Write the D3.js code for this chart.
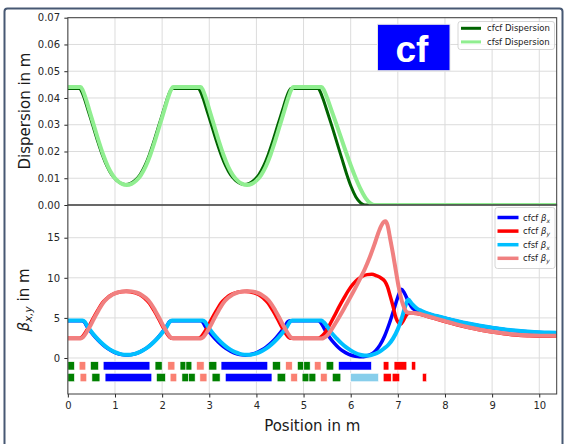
<!DOCTYPE html>
<html>
<head>
<meta charset="utf-8">
<script src="https://cdn.jsdelivr.net/npm/d3@7"></script>
<style>
html, body { margin: 0; padding: 0; background: #fff; }
svg { display: block; font-family: "DejaVu Sans", sans-serif; }
</style>
</head>
<body>
<svg id="chart" width="567" height="444"></svg>
<script>
// ---- Optics along the beamline: [position s in m, value] ----
const dispersionCfcf = [
  [0,0.0435],[0.25,0.0435],[0.29,0.0425],[0.35,0.0398],[0.43,0.0353],[0.53,0.0297],[0.63,0.0240],[0.73,0.0188],[0.83,0.0145],[0.93,0.0113],[1.03,0.0093],[1.13,0.0081],[1.23,0.0077],[1.33,0.0081],[1.43,0.0093],[1.53,0.0113],[1.63,0.0145],[1.73,0.0188],[1.83,0.0240],[1.93,0.0297],[2.03,0.0353],[2.11,0.0398],[2.17,0.0425],[2.21,0.0435],
  [2.77,0.0435],[2.81,0.0425],[2.87,0.0398],[2.95,0.0353],[3.05,0.0297],[3.15,0.0240],[3.25,0.0188],[3.35,0.0145],[3.45,0.0113],[3.55,0.0093],[3.65,0.0081],[3.75,0.0077],[3.85,0.0081],[3.95,0.0093],[4.05,0.0113],[4.15,0.0145],[4.25,0.0188],[4.35,0.0240],[4.45,0.0297],[4.55,0.0353],[4.63,0.0398],[4.69,0.0425],[4.73,0.0435],
  [5.31,0.0435],[5.35,0.0425],[5.41,0.0398],[5.51,0.0345],[5.61,0.0290],[5.71,0.0232],[5.81,0.0175],[5.91,0.0118],[6.01,0.0068],[6.11,0.0030],[6.21,0.0008],[6.30,0],[10.37,0]
];
const dispersionCfsf = [
  [0,0.0441],[0.27,0.0441],[0.31,0.0431],[0.37,0.0403],[0.45,0.0357],[0.55,0.0299],[0.65,0.0241],[0.75,0.0188],[0.85,0.0144],[0.95,0.0112],[1.05,0.0091],[1.15,0.0079],[1.25,0.0075],[1.35,0.0079],[1.45,0.0091],[1.55,0.0112],[1.65,0.0144],[1.75,0.0188],[1.85,0.0241],[1.95,0.0299],[2.05,0.0357],[2.13,0.0403],[2.19,0.0431],[2.23,0.0441],
  [2.82,0.0441],[2.86,0.0431],[2.92,0.0403],[3.00,0.0357],[3.10,0.0299],[3.20,0.0241],[3.30,0.0188],[3.40,0.0144],[3.50,0.0112],[3.60,0.0091],[3.70,0.0079],[3.80,0.0075],[3.90,0.0079],[4.00,0.0091],[4.10,0.0112],[4.20,0.0144],[4.30,0.0188],[4.40,0.0241],[4.50,0.0299],[4.60,0.0357],[4.68,0.0403],[4.74,0.0431],[4.78,0.0441],
  [5.38,0.0441],[5.43,0.0430],[5.50,0.0400],[5.60,0.0350],[5.72,0.0290],[5.84,0.0228],[5.96,0.0168],[6.08,0.0112],[6.20,0.0063],[6.32,0.0025],[6.42,0.0006],[6.51,0],[10.37,0]
];
const betaXCfcf = [
  [0,4.65],[0.30,4.65],[0.35,4.48],[0.41,3.90],[0.49,3.26],[0.59,2.55],[0.69,1.94],[0.79,1.43],[0.89,1.02],[0.99,0.71],[1.09,0.50],[1.18,0.39],[1.25,0.37],[1.32,0.39],[1.41,0.50],[1.51,0.71],[1.61,1.02],[1.71,1.43],[1.81,1.94],[1.91,2.55],[2.01,3.26],[2.09,3.90],[2.15,4.48],[2.20,4.65],
  [2.81,4.65],[2.86,4.48],[2.92,3.90],[3.00,3.26],[3.10,2.55],[3.20,1.94],[3.30,1.43],[3.40,1.02],[3.50,0.71],[3.60,0.50],[3.69,0.39],[3.76,0.35],[3.83,0.39],[3.92,0.50],[4.02,0.71],[4.12,1.02],[4.22,1.43],[4.32,1.94],[4.42,2.55],[4.52,3.26],[4.60,3.90],[4.66,4.48],[4.71,4.65],
  [5.31,4.65],[5.36,4.45],[5.45,3.55],[5.55,2.60],[5.65,1.85],[5.75,1.25],[5.85,0.80],[5.95,0.48],[6.05,0.28],[6.15,0.18],[6.22,0.16],[6.32,0.22],[6.42,0.42],[6.52,0.85],[6.62,1.60],[6.72,2.75],[6.82,4.30],[6.92,6.10],[7.00,7.60],[7.08,8.56],[7.14,8.10],[7.22,7.10],[7.32,6.15],[7.45,5.85],[7.60,5.60],[7.75,5.32],[7.89,5.12],[8.00,4.95],[8.25,4.59],[8.50,4.27],[8.75,4.00],[9.00,3.76],[9.25,3.56],[9.50,3.39],[9.75,3.27],[10.00,3.18],[10.20,3.14],[10.37,3.13]
];
const betaYCfcf = [
  [0,2.45],[0.25,2.45],[0.30,2.60],[0.37,3.15],[0.45,3.95],[0.53,4.85],[0.63,5.90],[0.73,6.85],[0.83,7.45],[0.93,7.88],[1.03,8.12],[1.13,8.26],[1.23,8.30],[1.33,8.26],[1.43,8.12],[1.53,7.88],[1.63,7.45],[1.73,6.85],[1.83,5.90],[1.93,4.85],[2.01,3.95],[2.09,3.15],[2.16,2.60],[2.21,2.45],
  [2.77,2.45],[2.82,2.60],[2.89,3.15],[2.97,3.95],[3.05,4.85],[3.15,5.90],[3.25,6.85],[3.35,7.45],[3.45,7.88],[3.55,8.12],[3.65,8.26],[3.75,8.30],[3.85,8.26],[3.95,8.12],[4.05,7.88],[4.15,7.45],[4.25,6.85],[4.35,5.90],[4.45,4.85],[4.53,3.95],[4.61,3.15],[4.68,2.60],[4.73,2.45],
  [5.31,2.45],[5.36,2.60],[5.45,3.10],[5.55,4.10],[5.65,5.20],[5.75,6.35],[5.85,7.40],[5.95,8.40],[6.05,9.20],[6.15,9.80],[6.25,10.20],[6.35,10.40],[6.45,10.45],[6.55,10.25],[6.65,9.95],[6.72,9.60],[6.78,8.90],[6.84,7.70],[6.90,6.40],[6.96,5.00],[7.02,4.35],[7.06,4.22],[7.12,4.70],[7.18,5.35],[7.25,5.62],[7.40,5.55],[7.60,5.22],[7.75,4.97],[7.89,4.74],[8.00,4.55],[8.25,4.15],[8.50,3.79],[8.75,3.48],[9.00,3.23],[9.25,3.03],[9.50,2.88],[9.75,2.78],[10.00,2.72],[10.20,2.72],[10.37,2.74]
];
const betaXCfsf = [
  [0,4.68],[0.31,4.68],[0.36,4.50],[0.42,3.92],[0.50,3.28],[0.60,2.57],[0.70,1.96],[0.80,1.45],[0.90,1.04],[1.00,0.73],[1.10,0.52],[1.19,0.41],[1.26,0.39],[1.33,0.41],[1.42,0.52],[1.52,0.73],[1.62,1.04],[1.72,1.45],[1.82,1.96],[1.92,2.57],[2.02,3.28],[2.10,3.92],[2.16,4.50],[2.21,4.68],
  [2.86,4.68],[2.91,4.50],[2.97,3.92],[3.05,3.28],[3.15,2.57],[3.25,1.96],[3.35,1.45],[3.45,1.04],[3.55,0.73],[3.65,0.52],[3.74,0.41],[3.81,0.39],[3.88,0.41],[3.97,0.52],[4.07,0.73],[4.17,1.04],[4.27,1.45],[4.37,1.96],[4.47,2.57],[4.57,3.28],[4.65,3.92],[4.71,4.50],[4.76,4.68],
  [5.38,4.68],[5.43,4.45],[5.50,3.95],[5.60,3.10],[5.70,2.45],[5.80,1.85],[5.90,1.35],[6.00,0.95],[6.10,0.62],[6.20,0.40],[6.30,0.30],[6.40,0.32],[6.50,0.48],[6.60,0.75],[6.70,1.15],[6.80,1.65],[6.90,2.45],[7.00,3.60],[7.08,4.90],[7.15,6.30],[7.22,7.30],[7.30,6.75],[7.40,6.20],[7.50,5.88],[7.60,5.63],[7.75,5.35],[7.89,5.15],[8.00,4.98],[8.25,4.62],[8.50,4.30],[8.75,4.03],[9.00,3.79],[9.25,3.59],[9.50,3.42],[9.75,3.30],[10.00,3.21],[10.20,3.17],[10.37,3.16]
];
const betaYCfsf = [
  [0,2.42],[0.27,2.42],[0.32,2.58],[0.39,3.15],[0.47,3.95],[0.55,4.87],[0.65,5.93],[0.75,6.88],[0.85,7.50],[0.95,7.93],[1.05,8.17],[1.15,8.31],[1.25,8.35],[1.35,8.31],[1.45,8.17],[1.55,7.93],[1.65,7.50],[1.75,6.88],[1.85,5.93],[1.95,4.87],[2.03,3.95],[2.11,3.15],[2.18,2.58],[2.23,2.42],
  [2.82,2.42],[2.87,2.58],[2.94,3.15],[3.02,3.95],[3.10,4.87],[3.20,5.93],[3.30,6.88],[3.40,7.50],[3.50,7.93],[3.60,8.17],[3.70,8.31],[3.80,8.35],[3.90,8.31],[4.00,8.17],[4.10,7.93],[4.20,7.50],[4.30,6.88],[4.40,5.93],[4.50,4.87],[4.58,3.95],[4.66,3.15],[4.73,2.58],[4.78,2.42],
  [5.38,2.42],[5.44,2.55],[5.50,2.80],[5.60,3.60],[5.70,4.55],[5.80,5.55],[5.90,6.60],[6.00,7.65],[6.10,8.75],[6.20,9.90],[6.30,11.10],[6.40,12.50],[6.50,14.10],[6.58,15.50],[6.65,16.50],[6.70,16.95],[6.74,17.05],[6.78,16.60],[6.84,14.80],[6.90,12.90],[6.96,10.80],[7.02,8.80],[7.08,7.20],[7.14,6.20],[7.20,5.70],[7.28,5.62],[7.40,5.58],[7.60,5.27],[7.75,5.02],[7.89,4.78],[8.00,4.60],[8.25,4.20],[8.50,3.84],[8.75,3.53],[9.00,3.28],[9.25,3.08],[9.50,2.93],[9.75,2.83],[10.00,2.77],[10.20,2.76],[10.37,2.77]
];

// ---- Lattice elements: [type, start s, end s] ----
const latticeCfcf = [
  ["QF",0,0.14],["QD",0.24,0.38],["QF",0.48,0.65],["B",0.75,1.74],["QF",1.85,2.0],["QD",2.12,2.27],["QF",2.38,2.505],["QF",2.505,2.63],["QD",2.73,2.89],["QF",2.99,3.16],["B",3.25,4.24],["QF",4.34,4.51],["QD",4.62,4.76],["QF",4.87,5.005],["QF",5.005,5.14],["QD",5.23,5.37],["QF",5.48,5.64],["B",5.74,6.44],["QM",6.69,6.81],["QM",6.92,7.19],["QM",7.29,7.38]
];
const latticeCfsf = [
  ["QF",0,0.14],["QD",0.26,0.40],["QF",0.51,0.68],["B",0.79,1.78],["QF",1.88,2.07],["QD",2.17,2.31],["QF",2.42,2.56],["QF",2.56,2.70],["QD",2.80,2.95],["QF",3.06,3.23],["B",3.34,4.33],["QF",4.44,4.62],["QD",4.73,4.87],["QF",4.97,5.115],["QF",5.115,5.26],["QD",5.36,5.50],["QF",5.61,5.79],["BS",6.0,6.59],["QM",6.69,6.86],["QM",6.88,7.04],["QM",7.52,7.61]
];

// ---- Axis ticks ----
const xTicks = [0,1,2,3,4,5,6,7,8,9,10];
const dispersionTicks = [0,0.01,0.02,0.03,0.04,0.05,0.06,0.07];
const betaTicks = [0,5,10,15];

// ---- Layout ----
const svg = d3.select("#chart");
const plotLeft = 67.85, plotRight = 556.7;
const topY0 = 17.7, midY = 205, botY1 = 394;

const x = d3.scaleLinear().domain([0, 10.37]).range([plotLeft, plotRight]);
const yD = d3.scaleLinear().domain([0, 0.07]).range([midY, topY0]);
const yB = d3.scaleLinear().domain([-4.49, 19.08]).range([botY1, midY]);

const elementColor = { QF: "#008000", QD: "#fa8072", B: "#0000ff", BS: "#87ceeb", QM: "#ff0000" };

// figure frame
svg.append("rect")
  .attr("x", 4.5).attr("y", 8.5).attr("width", 558).attr("height", 470)
  .attr("rx", 3).attr("fill", "#fff").attr("stroke", "#475873").attr("stroke-width", 2);

const defs = svg.append("defs");
defs.append("clipPath").attr("id", "clipTop").append("rect")
  .attr("x", plotLeft).attr("y", topY0).attr("width", plotRight - plotLeft).attr("height", midY - topY0);
defs.append("clipPath").attr("id", "clipBot").append("rect")
  .attr("x", plotLeft).attr("y", midY).attr("width", plotRight - plotLeft).attr("height", botY1 - midY);

const gridColor = "#dcdcdc";

function drawGrid(yScale, ticks, y0, y1) {
  const g = svg.append("g");
  g.selectAll(".vx").data(xTicks).join("line")
    .attr("x1", d => x(d)).attr("x2", d => x(d)).attr("y1", y0).attr("y2", y1)
    .attr("stroke", gridColor).attr("stroke-width", 1);
  g.selectAll(".hy").data(ticks).join("line")
    .attr("x1", plotLeft).attr("x2", plotRight).attr("y1", d => yScale(d)).attr("y2", d => yScale(d))
    .attr("stroke", gridColor).attr("stroke-width", 1);
}
drawGrid(yD, dispersionTicks, topY0, midY);
drawGrid(yB, betaTicks, midY, botY1);

// ---- Dispersion panel ----
const lineD = d3.line().x(d => x(d[0])).y(d => yD(d[1])).curve(d3.curveMonotoneX);
const gTop = svg.append("g").attr("clip-path", "url(#clipTop)");
gTop.append("path").datum(dispersionCfcf).attr("d", lineD)
  .attr("fill", "none").attr("stroke", "#006400").attr("stroke-width", 3).attr("stroke-linejoin", "round");
gTop.append("path").datum(dispersionCfsf).attr("d", lineD)
  .attr("fill", "none").attr("stroke", "#90ee90").attr("stroke-width", 4).attr("stroke-linejoin", "round");

// ---- Beta panel ----
const lineB = d3.line().x(d => x(d[0])).y(d => yB(d[1])).curve(d3.curveMonotoneX);
const gBot = svg.append("g").attr("clip-path", "url(#clipBot)");
const betaSeries = [
  { data: betaXCfcf, color: "#0000ff", width: 3.5 },
  { data: betaYCfcf, color: "#ff0000", width: 3.5 },
  { data: betaXCfsf, color: "#00bfff", width: 4 },
  { data: betaYCfsf, color: "#f08080", width: 4 }
];
betaSeries.forEach(s => {
  gBot.append("path").datum(s.data).attr("d", lineB)
    .attr("fill", "none").attr("stroke", s.color).attr("stroke-width", s.width)
    .attr("stroke-linejoin", "round");
});

// lattice rows under the beta functions
const rowBands = [[-1.50, -0.46], [-2.96, -1.91]];
[latticeCfcf, latticeCfsf].forEach((row, i) => {
  const [lo, hi] = rowBands[i];
  gBot.append("g").selectAll("rect").data(row).join("rect")
    .attr("x", d => x(d[1])).attr("width", d => x(d[2]) - x(d[1]))
    .attr("y", yB(hi)).attr("height", yB(lo) - yB(hi))
    .attr("fill", d => elementColor[d[0]])
    .attr("stroke", "#fff").attr("stroke-width", 0.6);
});

// ---- Axes ----
const tickColor = "#262626";
function styleAxis(g) {
  g.select(".domain").remove();
  g.selectAll(".tick line").attr("stroke", tickColor);
  g.selectAll(".tick text").attr("fill", tickColor).attr("font-size", "10px")
    .attr("font-family", "DejaVu Sans, sans-serif");
}
svg.append("g").attr("transform", `translate(${plotLeft},0)`)
  .call(d3.axisLeft(yD).tickValues(dispersionTicks).tickFormat(d3.format(".2f")).tickSize(3.5).tickPadding(4.3))
  .call(styleAxis);
svg.append("g").attr("transform", `translate(${plotLeft},0)`)
  .call(d3.axisLeft(yB).tickValues(betaTicks).tickFormat(d3.format("d")).tickSize(3.5).tickPadding(4.3))
  .call(styleAxis);
svg.append("g").attr("transform", `translate(0,${botY1})`)
  .call(d3.axisBottom(x).tickValues(xTicks).tickFormat(d3.format("d")).tickSize(3.5).tickPadding(4))
  .call(styleAxis);

// spines
const spine = "#3d3d3d";
[[topY0, midY], [midY, botY1]].forEach(([a, b]) => {
  svg.append("rect").attr("x", plotLeft).attr("y", a).attr("width", plotRight - plotLeft).attr("height", b - a)
    .attr("fill", "none").attr("stroke", spine).attr("stroke-width", 1);
});

// axis titles
svg.append("text")
  .attr("transform", "translate(29.5,111) rotate(-90)")
  .attr("text-anchor", "middle").attr("font-size", "15px").attr("fill", "#1a1a1a")
  .text("Dispersion in m");

const betaTitle = svg.append("text")
  .attr("transform", "translate(28.5,300) rotate(-90)")
  .attr("text-anchor", "middle").attr("font-size", "15px").attr("fill", "#1a1a1a");
betaTitle.append("tspan").attr("font-style", "italic").text("β");
betaTitle.append("tspan").attr("font-style", "italic").attr("font-size", "10.5px").attr("dy", 3).text("x,y");
betaTitle.append("tspan").attr("dy", -3).text(" in m");

svg.append("text")
  .attr("x", (plotLeft + plotRight) / 2).attr("y", 431)
  .attr("text-anchor", "middle").attr("font-size", "15px").attr("fill", "#1a1a1a")
  .text("Position in m");

// "cf" badge
svg.append("rect").attr("x", 377.5).attr("y", 24.3).attr("width", 72.5).attr("height", 46.4)
  .attr("fill", "#0000ff").attr("stroke", "#e6e6e6").attr("stroke-width", 1);
svg.append("text").attr("x", 412).attr("y", 61.5).attr("text-anchor", "middle")
  .attr("font-family", "Liberation Sans, Arial, sans-serif").attr("font-weight", "bold")
  .attr("font-size", "37px").attr("fill", "#fff").text("cf");

// ---- Legends ----
function legend(x0, y0, w, h, lineX0, lineX1, textX, rowY, items) {
  const g = svg.append("g");
  g.append("rect").attr("x", x0).attr("y", y0).attr("width", w).attr("height", h)
    .attr("rx", 2.5).attr("fill", "#fff").attr("fill-opacity", 0.8)
    .attr("stroke", "#cccccc").attr("stroke-width", 0.8);
  items.forEach((it, i) => {
    const yy = rowY + i * 13.6;
    g.append("line").attr("x1", lineX0).attr("x2", lineX1).attr("y1", yy).attr("y2", yy)
      .attr("stroke", it.color).attr("stroke-width", it.width);
    const t = g.append("text").attr("x", textX).attr("y", yy + 3).attr("font-size", "8.5px").attr("fill", "#1a1a1a");
    t.append("tspan").text(it.label);
    if (it.sub) {
      t.append("tspan").attr("font-style", "italic").text(" β");
      t.append("tspan").attr("font-style", "italic").attr("font-size", "6px").attr("dy", 2).text(it.sub);
    }
  });
}
legend(458, 21.5, 96.5, 28, 461, 481, 487, 28.3, [
  { label: "cfcf Dispersion", color: "#006400", width: 3 },
  { label: "cfsf Dispersion", color: "#90ee90", width: 3 }
]);
legend(495, 207.5, 60, 61, 497.5, 518.5, 523, 217.5, [
  { label: "cfcf", sub: "x", color: "#0000ff", width: 3.5 },
  { label: "cfcf", sub: "y", color: "#ff0000", width: 3.5 },
  { label: "cfsf", sub: "x", color: "#00bfff", width: 3.5 },
  { label: "cfsf", sub: "y", color: "#f08080", width: 3.5 }
]);
</script>
</body>
</html>
